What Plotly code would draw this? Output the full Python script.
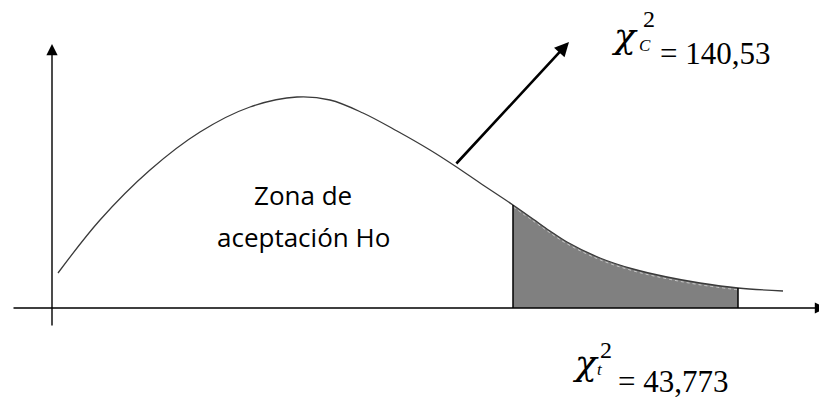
import numpy as np
import plotly.graph_objects as go

# density curve sketch (origin where the two axes cross, y pointing up)
curve_x = [6, 48, 98, 148, 198, 245, 278, 311, 345, 378, 403, 428, 461, 481, 498, 515, 548, 581, 615, 648, 686, 731]
curve_y = [35, 88, 138, 176, 201, 211, 208, 195, 177, 158, 142, 125, 103, 89, 77, 66, 50, 39, 31, 25, 20, 17]

# rejection region limits on the x axis
reject_start = 461
reject_end = 686

zone_lines = ["Zona de", "aceptación Ho"]
calc_value = "= 140,53"
table_value = "= 43,773"

cx = np.array(curve_x, dtype=float)
cy = np.array(curve_y, dtype=float)

fig = go.Figure()

# shaded rejection area
mask = (cx >= reject_start) & (cx <= reject_end)
fig.add_trace(go.Scatter(
    x=cx[mask], y=cy[mask], mode="lines", line=dict(width=0, shape="spline"),
    fill="tozeroy", fillcolor="#808080", hoverinfo="skip", showlegend=False
))
# faint light seam just under the curve inside the shading
fig.add_trace(go.Scatter(
    x=cx[mask], y=cy[mask] - 1.8, mode="lines",
    line=dict(color="#d8d8d8", width=0.8, dash="dot", shape="spline"),
    hoverinfo="skip", showlegend=False
))

# curve
fig.add_trace(go.Scatter(
    x=cx, y=cy, mode="lines", line=dict(color="#3a3a3a", width=1.3, shape="spline"),
    hoverinfo="skip", showlegend=False
))

# vertical borders of the shaded region
for xb in (reject_start, reject_end):
    fig.add_trace(go.Scatter(
        x=[xb, xb], y=[0, float(np.interp(xb, cx, cy))], mode="lines",
        line=dict(color="black", width=1.5), hoverinfo="skip", showlegend=False
    ))

# axes drawn as arrows
axis_arrow = dict(text="", showarrow=True, xref="x", yref="y", axref="x", ayref="y",
                  arrowhead=2, arrowsize=1.6, arrowwidth=1.4, arrowcolor="black",
                  standoff=0, startstandoff=0)
fig.add_annotation(x=774, y=0, ax=-40, ay=0, **axis_arrow)
fig.add_annotation(x=0, y=264, ax=0, ay=-19, **axis_arrow)

# pointer to the calculated statistic
fig.add_annotation(text="", showarrow=True, xref="x", yref="y", axref="x", ayref="y",
                   x=517, y=266, ax=403, ay=143, arrowhead=2, arrowsize=1.1,
                   arrowwidth=2.6, arrowcolor="black", standoff=0, startstandoff=0)

# label in the acceptance zone
sans = dict(family="Open Sans, Liberation Sans, sans-serif", size=26, color="black")
fig.add_annotation(text=zone_lines[0], x=251, y=113, showarrow=False, font=sans)
fig.add_annotation(text=zone_lines[1], x=251, y=71, showarrow=False, font=sans)

serif = "Liberation Serif, Times New Roman, serif"


def chi_label(chi_xy, sub, sub_xy, sq_xy, value, val_xy):
    # italic chi with its subscript, the squared mark and the value
    fig.add_annotation(text="<i>χ</i>", x=chi_xy[0], y=chi_xy[1], showarrow=False,
                       font=dict(family="DejaVu Serif, serif", size=36, color="black"))
    fig.add_annotation(text="<i>" + sub + "</i>", x=sub_xy[0], y=sub_xy[1], showarrow=False,
                       font=dict(family=serif, size=17, color="black"))
    fig.add_annotation(text="2", x=sq_xy[0], y=sq_xy[1], showarrow=False,
                       font=dict(family=serif, size=24, color="black"))
    fig.add_annotation(text=value, x=val_xy[0], y=val_xy[1], showarrow=False,
                       xanchor="left", font=dict(family=serif, size=31, color="black"))


chi_label((572, 273), "C", (593, 263), (597, 289), calc_value, (606, 255))
chi_label((533, -54), "t", (548, -61), (554, -42), table_value, (564, -73))

fig.update_layout(
    width=819, height=389,
    margin=dict(l=0, r=0, t=0, b=0),
    plot_bgcolor="white", paper_bgcolor="white",
    xaxis=dict(range=[-44, 775], visible=False, fixedrange=True),
    yaxis=dict(range=[-89, 300], visible=False, fixedrange=True),
    showlegend=False
)

fig.write_html("out.html")
